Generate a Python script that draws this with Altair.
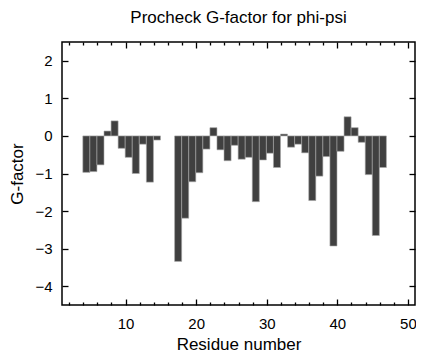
import altair as alt
import pandas as pd

residues = [4, 5, 6, 7, 8, 9, 10, 11, 12, 13, 14,
            17, 18, 19, 20, 21, 22, 23, 24, 25, 26, 27, 28, 29, 30, 31,
            32, 33, 34, 35, 36, 37, 38, 39, 40, 41, 42, 43, 44, 45, 46]
gfactor = [-0.97, -0.95, -0.77, 0.13, 0.40, -0.33, -0.57, -1.00, -0.22, -1.23, -0.11,
           -3.34, -2.19, -1.22, -0.98, -0.35, 0.22, -0.37, -0.66, -0.25, -0.62, -0.57,
           -1.75, -0.64, -0.46, -0.84, 0.05, -0.30, -0.22, -0.45, -1.72, -1.07, -0.55,
           -2.93, -0.41, 0.51, 0.22, -0.17, -1.03, -2.65, -0.84]

x_major = [10, 20, 30, 40, 50]
x_minor = [2, 4, 6, 8, 12, 14, 16, 18, 22, 24, 26, 28, 32, 34, 36, 38, 42, 44, 46, 48]
y_major = [-4, -3, -2, -1, 0, 1, 2]

df = pd.DataFrame({"res": residues, "g": gfactor})

FONT = "Liberation Sans"
xscale = alt.Scale(domain=[1, 51], nice=False, zero=False)
yscale = alt.Scale(domain=[-4.5, 2.5], nice=False, zero=False)

base = alt.Chart(df).transform_calculate(
    lo="datum.res - 0.05", hi="datum.res + 0.95"
)

def ax(orient, values, size, labels=False, title=None, pad=12, tpad=4):
    kw = dict(orient=orient, values=values, tickSize=size, offset=-size,
              domain=False, grid=False, labels=labels, tickColor="black",
              tickWidth=1.3, labelFont=FONT, labelFontSize=15, labelColor="black",
              labelPadding=pad, titleFont=FONT, titleFontSize=17,
              titleFontWeight="normal", titleColor="black", titlePadding=tpad)
    kw["title"] = title
    return alt.Axis(**kw)

bars = base.mark_bar(color="#404040", stroke="#a8a8a8", strokeWidth=0.6).encode(
    x=alt.X("lo:Q", scale=xscale, axis=ax("bottom", x_major, 6, labels=True,
                                           title="Residue number", pad=11, tpad=5)),
    x2="hi:Q",
    y=alt.Y("g:Q", scale=yscale, axis=ax("left", y_major, 6, labels=True,
                                         title="G-factor", pad=10, tpad=8)),
    y2=alt.datum(0),
)

l2 = base.mark_bar(opacity=0).encode(
    x=alt.X("lo:Q", scale=xscale, axis=ax("bottom", x_minor, 3)),
    x2="hi:Q",
    y=alt.Y("g:Q", scale=yscale, axis=ax("right", y_major, 6)),
    y2=alt.datum(0),
)
l3 = base.mark_bar(opacity=0).encode(
    x=alt.X("lo:Q", scale=xscale, axis=ax("top", x_major, 6)),
    x2="hi:Q",
    y=alt.Y("g:Q", scale=yscale, axis=None),
    y2=alt.datum(0),
)
l4 = base.mark_bar(opacity=0).encode(
    x=alt.X("lo:Q", scale=xscale, axis=ax("top", x_minor, 3)),
    x2="hi:Q",
    y=alt.Y("g:Q", scale=yscale, axis=None),
    y2=alt.datum(0),
)

chart = alt.layer(bars, l2, l3, l4).resolve_axis(
    x="independent", y="independent"
).properties(
    width=353,
    height=263,
    background="white",
    autosize=alt.AutoSizeParams(type="none"),
    padding={"left": 54, "top": 34, "right": 1, "bottom": 47},
    title=alt.TitleParams("Procheck G-factor for phi-psi", font=FONT, fontSize=17,
                          fontWeight="normal", color="black", anchor="middle",
                          offset=14),
).configure_view(stroke="black", strokeWidth=1.5)

chart.save("out.html", embed_options={"renderer": "svg", "actions": False})
